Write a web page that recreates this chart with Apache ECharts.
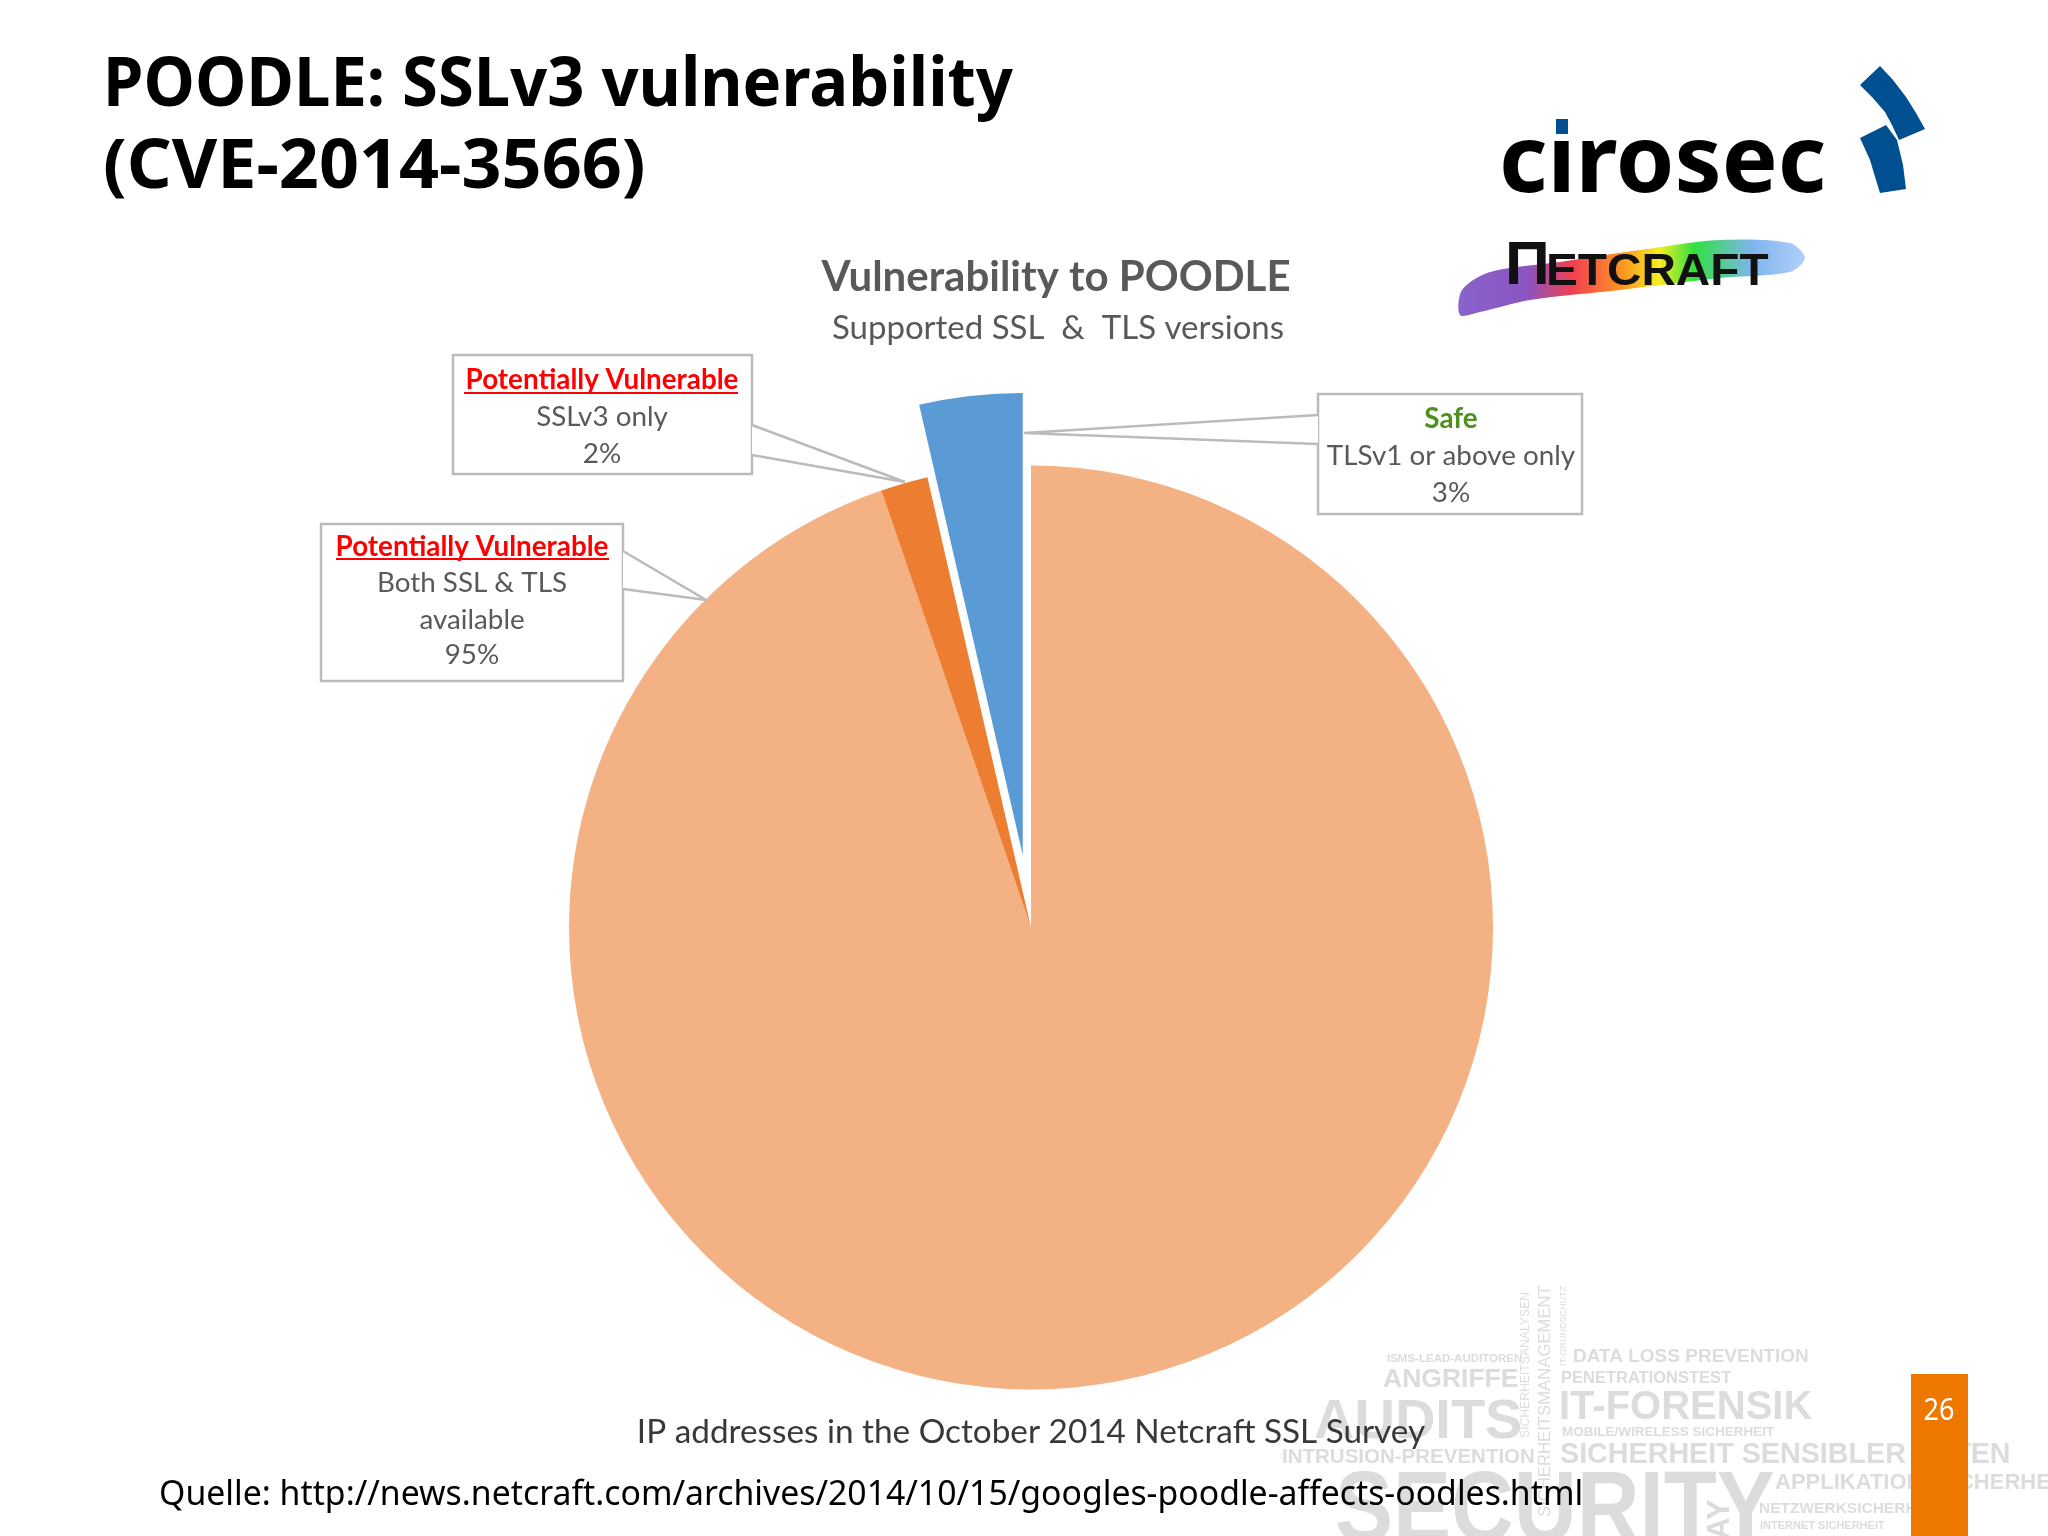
<!DOCTYPE html>
<html>
<head>
<meta charset="utf-8">
<title>POODLE</title>
<style>
html,body{margin:0;padding:0;background:#fff;}
#main{width:2048px;height:1536px;}
</style>
<script src="https://cdn.jsdelivr.net/npm/echarts@6/dist/echarts.min.js"></script>
</head>
<body>
<div id="main"></div>
<script>
// values, labels say 95 / 2 / 3
var categories = ['Both SSL & TLS available', 'SSLv3 only', 'TLSv1 or above only'];
var sliceValues = [94.75, 1.65, 3.6];
var sliceColors = ['#F4B183', '#ED7D31', '#5B9BD5'];
var heads = ['Potentially Vulnerable', 'Potentially Vulnerable', 'Safe'];
var percents = ['95%', '2%', '3%'];
var titleLines = ['POODLE: SSLv3 vulnerability', '(CVE-2014-3566)'];
var chartTitle = 'Vulnerability to POODLE';
var chartSub = 'Supported SSL  &  TLS versions';
var chartNote = 'IP addresses in the October 2014 Netcraft SSL Survey';
var source = 'Quelle: http://news.netcraft.com/archives/2014/10/15/googles-poodle-affects-oodles.html';

var els = [];
var cloudColor = '#DCDCDE';

function txt(x, y, s, size, o) {
  o = o || {};
  els.push({
    type: 'text', x: x, y: y, rotation: o.rot || 0, scaleX: o.sx || 1, silent: true,
    style: {
      text: s, x: 0, y: 0, fontSize: size,
      fontFamily: o.font || 'Lato',
      fontWeight: o.bold ? 'bold' : 'normal',
      fill: o.fill || '#595959',
      align: o.align || 'center',
      verticalAlign: 'middle'
    }
  });
}
function poly(points, fill) {
  els.push({ type: 'polygon', silent: true, shape: { points: points }, style: { fill: fill } });
}
function cloud(x, y, s, size, o) {
  o = o || {};
  txt(x, y, s, size, { font: 'Liberation Sans', bold: !o.thin, fill: cloudColor, align: 'left', rot: o.rot, sx: o.sx });
}

// word cloud, bottom right
var up = Math.PI / 2;
cloud(1387, 1359, 'ISMS-LEAD-AUDITOREN', 11.5);
cloud(1383, 1380, 'ANGRIFFE', 26.5);
cloud(1314, 1423, 'AUDITS', 56);
cloud(1282, 1457, 'INTRUSION-PREVENTION', 20.5);
cloud(1335, 1513, 'SECURITY', 100, { sx: 0.87 });
cloud(1573, 1357, 'DATA LOSS PREVENTION', 19);
cloud(1561, 1378, 'PENETRATIONSTEST', 16.5);
cloud(1559, 1408, 'IT-FORENSIK', 40);
cloud(1562, 1432, 'MOBILE/WIRELESS SICHERHEIT', 13.5);
cloud(1560, 1455, 'SICHERHEIT SENSIBLER DATEN', 28.7);
cloud(1775, 1483, 'APPLIKATIONSSICHERHEIT', 22);
cloud(1759, 1509, 'NETZWERKSICHERHEIT', 15.5);
cloud(1760, 1526, 'INTERNET SICHERHEIT', 11);
cloud(1526, 1438, 'SICHERHEITSANALYSEN', 12.2, { rot: up, thin: true });
cloud(1545, 1517, 'SICHERHEITSMANAGEMENT', 16.7, { rot: up, thin: true });
cloud(1564, 1366, 'IT-GRUNDSCHUTZ', 9, { rot: up, thin: true });
cloud(1720, 1651, 'GATEWAY', 31, { rot: up });

// page number block
els.push({ type: 'rect', silent: true, shape: { x: 1911, y: 1374, width: 57, height: 162 }, style: { fill: '#EE7700' } });
txt(1939, 1411, '26', 30, { font: 'Noto Sans', fill: '#fff', sx: 0.9 });

// slide title
txt(103, 87, titleLines[0], 68, { font: 'Noto Sans', bold: true, fill: '#000', align: 'left', sx: 0.957 });
txt(103, 169, titleLines[1], 68, { font: 'Noto Sans', bold: true, fill: '#000', align: 'left', sx: 1.03 });

// cirosec logo
txt(1499, 165, 'cirosec', 94, { font: 'Noto Sans', bold: true, fill: '#000', align: 'left' });
els.push({ type: 'rect', silent: true, shape: { x: 1550, y: 108, width: 24, height: 30 }, style: { fill: '#fff' } });
els.push({ type: 'rect', silent: true, shape: { x: 1556, y: 119, width: 12, height: 15 }, style: { fill: '#004F91' } });
poly([[1880, 66], [1893, 80], [1906, 97], [1916, 113], [1925, 129], [1899, 140], [1892, 125], [1885, 112], [1872, 97], [1860, 85]], '#004F91');
poly([[1886, 125], [1860, 138], [1870, 160], [1876, 180], [1880, 193], [1906, 189], [1903, 165], [1897, 140]], '#004F91');

// netcraft logo
els.push({
  type: 'polygon', silent: true,
  shape: { smooth: 0.3, points: [[1460, 315], [1462, 290], [1490, 272], [1560, 262], [1640, 250], [1720, 240], [1790, 243], [1805, 258], [1790, 272], [1720, 278], [1620, 290], [1530, 300], [1480, 312]] },
  style: {
    fill: new echarts.graphic.LinearGradient(0, 0, 1, 0, [
      { offset: 0, color: '#8A63CC' }, { offset: 0.2, color: '#8A55C0' },
      { offset: 0.33, color: '#F04050' }, { offset: 0.48, color: '#FF9A20' },
      { offset: 0.58, color: '#F4F020' }, { offset: 0.68, color: '#30E040' },
      { offset: 0.85, color: '#80B4F0' }, { offset: 1, color: '#B0D0F8' }
    ])
  }
});
txt(1505, 267, '\u03A0', 62, { font: 'Liberation Sans', bold: true, fill: '#111', align: 'left' });
txt(1546, 273, 'ETCRAFT', 45, { font: 'Liberation Sans', bold: true, fill: '#111', align: 'left', sx: 1.06 });

// chart headings
txt(1056, 277, chartTitle, 42, { bold: true });
txt(1058, 328, chartSub, 33);
txt(1031, 1432, chartNote, 33.3, { fill: '#383838' });
txt(159, 1495, source, 35, { font: 'Noto Sans', fill: '#000', align: 'left', sx: 0.965 });

// callouts
function callout(box, tip, a, b, cx, lines, headColor, underline) {
  els.push({
    type: 'polygon', silent: true, z: 5,
    shape: { points: [[box[0], box[1]], [box[2], box[1]], [box[2], box[3]], [box[0], box[3]]] },
    style: { fill: '#fff', stroke: '#BBBBBB', lineWidth: 2.5 }
  });
  els.push({ type: 'polygon', silent: true, z: 5, shape: { points: [a, tip, b] }, style: { fill: '#fff' } });
  els.push({ type: 'polyline', silent: true, z: 5, shape: { points: [a, tip, b] }, style: { stroke: '#BBBBBB', lineWidth: 2.5, fill: null } });
  lines.forEach(function (l, i) {
    els.push({
      type: 'text', silent: true, z: 6, x: cx, y: l[1],
      style: {
        text: l[0], x: 0, y: 0, fontSize: 27.8, fontFamily: 'Lato',
        fontWeight: i === 0 ? 'bold' : 'normal',
        fill: i === 0 ? headColor : '#595959', align: 'center', verticalAlign: 'middle'
      }
    });
  });
  if (underline) {
    els.push({
      type: 'line', silent: true, z: 6,
      shape: { x1: underline[0], y1: underline[2], x2: underline[1], y2: underline[2] },
      style: { stroke: headColor, lineWidth: 2 }
    });
  }
}
callout([321, 524, 623, 681], [706, 600], [623, 551], [623, 589], 472,
  [[heads[0], 547], ['Both SSL & TLS', 583], ['available', 620], [percents[0], 655]], '#FF0000', [336, 609, 559]);
callout([453, 355, 752, 474], [905, 482], [752, 425], [752, 455], 602,
  [[heads[1], 380], [categories[1], 417], [percents[1], 454]], '#FF0000', [464, 738, 393]);
callout([1318, 394, 1582, 514], [1024, 433], [1318, 415], [1318, 444], 1451,
  [[heads[2], 419], [categories[2], 456], [percents[2], 493]], '#4E8F1E');

var chart = echarts.init(document.getElementById('main'), null, { renderer: 'canvas' });
chart.setOption({
  animation: false,
  backgroundColor: '#fff',
  graphic: { elements: els },
  series: [{
    type: 'pie',
    center: [1031, 927.5],
    radius: [0, 462],
    startAngle: 90,
    clockwise: true,
    selectedMode: 'single',
    selectedOffset: 73,
    silent: true,
    z: 2,
    label: { show: false },
    labelLine: { show: false },
    data: categories.map(function (c, i) {
      return {
        name: c,
        value: sliceValues[i],
        selected: i === 2,
        itemStyle: { color: sliceColors[i], borderWidth: 0 }
      };
    })
  }]
});
</script>
</body>
</html>
